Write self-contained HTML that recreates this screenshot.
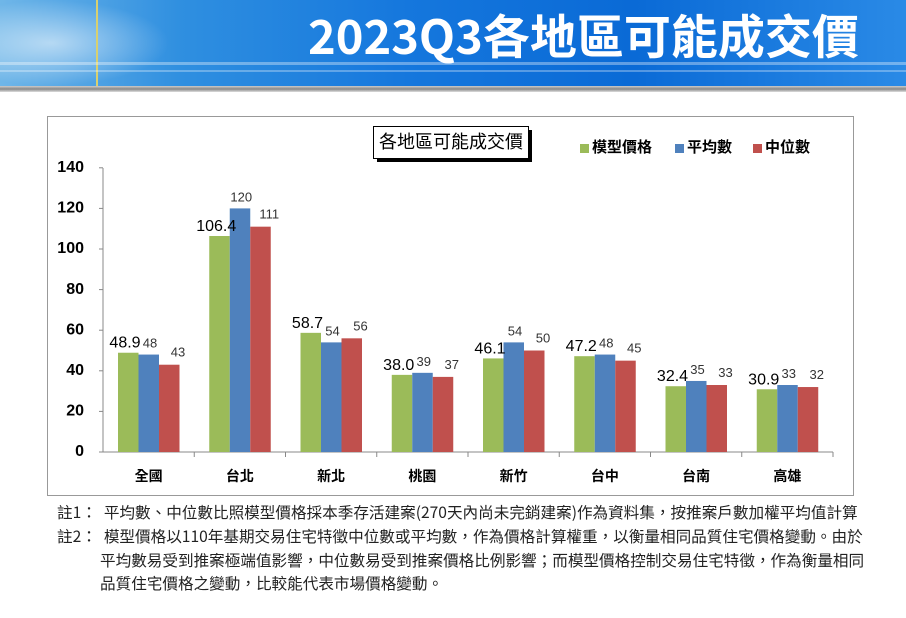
<!DOCTYPE html>
<html><head><meta charset="utf-8"><style>
body{margin:0;width:906px;height:618px;background:#fff;overflow:hidden;font-family:"Liberation Sans","Noto Sans CJK TC",sans-serif;}
.hdr{position:absolute;left:0;top:0;width:906px;height:86px;background:linear-gradient(90deg,#6fb6e8 0%,#2f8fe0 20%,#1577dd 45%,#0a6ad6 70%,#2a8ae6 100%);overflow:hidden}
.hdr .t{position:absolute;left:308px;top:4px;color:#fff;font-size:47px;font-weight:bold;font-family:"Noto Sans CJK TC",sans-serif;letter-spacing:0px;white-space:nowrap;line-height:60px}
.gl{position:absolute;left:0;top:86px;width:906px;height:6px;background:linear-gradient(#ccc,#888,#ddd)}
.note{position:absolute;left:57px;font-size:15.6px;color:#222;white-space:nowrap;font-family:"Noto Sans CJK TC",sans-serif;line-height:20px}
</style></head><body>
<div class="hdr">
<div style="position:absolute;left:0;top:0;width:170px;height:86px;background:radial-gradient(ellipse at 30% 50%,rgba(255,255,255,.55),rgba(255,255,255,0) 70%)"></div>
<div style="position:absolute;left:96px;top:0;width:2px;height:86px;background:#d8d070"></div>
<div style="position:absolute;left:0;top:62px;width:906px;height:3px;background:rgba(255,255,255,.35)"></div>
<div style="position:absolute;left:0;top:70px;width:906px;height:2px;background:rgba(255,255,255,.3)"></div>
<div class="t">2023Q3各地區可能成交價</div>
</div>
<div class="gl"></div>
<svg id="s" width="906" height="618" style="position:absolute;left:0;top:0" font-family="Liberation Sans, Noto Sans CJK TC, sans-serif"></svg>
<div class="note" style="top:502px">註1：&nbsp; 平均數、中位數比照模型價格採本季存活建案(270天內尚未完銷建案)作為資料集，按推案戶數加權平均值計算</div>
<div class="note" style="top:526px">註2：&nbsp; 模型價格以110年基期交易住宅特徵中位數或平均數，作為價格計算權重，以衡量相同品質住宅價格變動。由於</div>
<div class="note" style="top:550px;left:100px">平均數易受到推案極端值影響，中位數易受到推案價格比例影響；而模型價格控制交易住宅特徵，作為衡量相同</div>
<div class="note" style="top:573px;left:100px">品質住宅價格之變動，比較能代表市場價格變動。</div>
<script>
var s='';
s+='<rect x="47.5" y="116.5" width="806" height="379" fill="#fff" stroke="#999"/>';
s+='<rect x="377" y="130" width="155" height="32" fill="#000"/><rect x="373.5" y="126.5" width="155" height="32" fill="#fff" stroke="#000"/>';
s+='<text x="451" y="143" font-size="18" text-anchor="middle" dominant-baseline="middle" fill="#000" font-family="Noto Sans CJK TC, sans-serif">各地區可能成交價</text>';
var lg=[[580,'#9bbb59','模型價格'],[675,'#4f81bd','平均數'],[753,'#c0504d','中位數']];
lg.forEach(function(l){s+='<rect x="'+l[0]+'" y="144" width="9" height="9" fill="'+l[1]+'"/><text x="'+(l[0]+12)+'" y="148" font-size="15" font-weight="bold" dominant-baseline="middle" font-family="Noto Sans CJK TC, sans-serif">'+l[2]+'</text>';});
var y0=452,k=2.03;
for(var v=0;v<=140;v+=20){var y=y0-v*k;s+='<line x1="99" x2="103" y1="'+y+'" y2="'+y+'" stroke="#888"/><text x="84" y="'+y+'" font-size="16" font-weight="bold" text-anchor="end" dominant-baseline="middle" fill="#000">'+v+'</text>';}
s+='<line x1="103" x2="103" y1="168" y2="452" stroke="#888"/><line x1="103" x2="833" y1="452" y2="452" stroke="#888"/>';
var d=[['全國',48.9,48,43],['台北',106.4,120,111],['新北',58.7,54,56],['桃園',38.0,39,37],['新竹',46.1,54,50],['台中',47.2,48,45],['台南',32.4,35,33],['高雄',30.9,33,32]];
var c=['#9bbb59','#4f81bd','#c0504d'],w=91.25;
d.forEach(function(r,i){var x0=103+w*i;
s+='<line x1="'+(x0+w)+'" x2="'+(x0+w)+'" y1="452" y2="457" stroke="#888"/>';
s+='<text x="'+(x0+w/2)+'" y="477" font-size="14" font-weight="bold" text-anchor="middle" dominant-baseline="middle" font-family="Noto Sans CJK TC, sans-serif">'+r[0]+'</text>';
for(var j=0;j<3;j++){var bx=x0+15+j*20.5,h=r[j+1]*k;s+='<rect x="'+bx+'" y="'+(y0-h)+'" width="20.5" height="'+h+'" fill="'+c[j]+'"/>';}
s+='<text x="'+(x0+15+7)+'" y="'+(y0-r[1]*k-5)+'" font-size="16" text-anchor="middle" fill="#000">'+r[1].toFixed(1)+'</text>';
s+='<text x="'+(x0+15+32)+'" y="'+(y0-r[2]*k-7)+'" font-size="13" text-anchor="middle" fill="#333">'+r[2]+'</text>';
s+='<text x="'+(x0+15+60)+'" y="'+(y0-r[3]*k-8)+'" font-size="13" text-anchor="middle" fill="#333">'+r[3]+'</text>';
});
document.getElementById('s').innerHTML=s;
</script>
</body></html>
